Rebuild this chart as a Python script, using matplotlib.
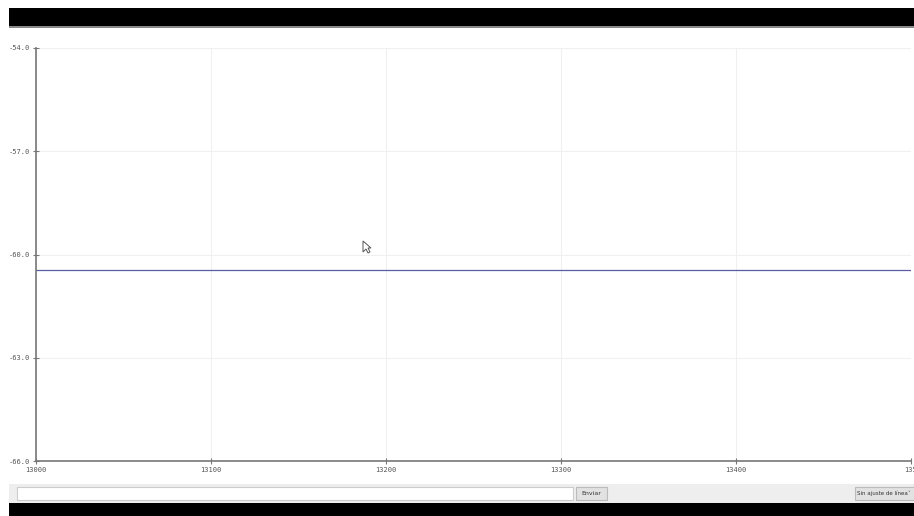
import matplotlib
matplotlib.use("Agg")
import matplotlib.pyplot as plt
from matplotlib.patches import Rectangle, Polygon

# Data
x_values = [13000, 13100, 13200, 13300, 13400, 13500]
y_values = [-60.45, -60.45, -60.45, -60.45, -60.45, -60.45]
x_ticks = [13000, 13100, 13200, 13300, 13400, 13500]
x_tick_labels = ["13000", "13100", "13200", "13300", "13400", "135"]
y_ticks = [-66.0, -63.0, -60.0, -57.0, -54.0]
y_tick_labels = ["-66.0", "-63.0", "-60.0", "-57.0", "-54.0"]

W, H = 914, 516
fig = plt.figure(figsize=(W / 100, H / 100), dpi=100)
fig.patch.set_facecolor("white")

def fx(px):
    return px / W

def fy(py):
    return 1 - py / H

# Top black bar
fig.add_artist(Rectangle((fx(9), fy(26)), fx(905), 18 / H, transform=fig.transFigure,
                         facecolor="black", edgecolor="none"))
fig.add_artist(Rectangle((fx(9), fy(27.5)), fx(905), 1.5 / H, transform=fig.transFigure,
                         facecolor="#888888", edgecolor="none"))
# Bottom panel
fig.add_artist(Rectangle((fx(9), fy(503)), fx(905), 19 / H, transform=fig.transFigure,
                         facecolor="#eeeeee", edgecolor="none"))
fig.add_artist(Rectangle((fx(9), 0), fx(905), 13 / H, transform=fig.transFigure,
                         facecolor="black", edgecolor="none"))
# text input
fig.add_artist(Rectangle((fx(17), fy(500)), fx(556), 13 / H, transform=fig.transFigure,
                         facecolor="white", edgecolor="#cccccc", linewidth=0.8))
# Enviar button
fig.add_artist(Rectangle((fx(576), fy(500)), fx(31), 13 / H, transform=fig.transFigure,
                         facecolor="#e2e2e2", edgecolor="#bbbbbb", linewidth=0.8))
fig.text(fx(591.5), fy(493.5), "Enviar", fontsize=4.5, color="#333333",
         ha="center", va="center")
# dropdown
fig.add_artist(Rectangle((fx(855), fy(500)), fx(60), 13 / H, transform=fig.transFigure,
                         facecolor="#e2e2e2", edgecolor="#bbbbbb", linewidth=0.8))
fig.text(fx(857), fy(493.5), "Sin ajuste de línea", fontsize=4.0, color="#333333",
         ha="left", va="center")
fig.text(fx(910), fy(493.5), "\u02c5", fontsize=4.0, color="#555555",
         ha="right", va="center")

ax = fig.add_axes([fx(36), 55 / H, fx(911) - fx(36), 413 / H])
ax.plot(x_values, y_values, color="#5c5ca6", linewidth=0.9)
ax.set_xlim(13000, 13500)
ax.set_ylim(-66.0, -54.0)
ax.set_xticks(x_ticks)
ax.set_xticklabels(x_tick_labels, fontsize=5, color="#555555", family="DejaVu Sans Mono")
ax.set_yticks(y_ticks)
ax.set_yticklabels(y_tick_labels, fontsize=5, color="#555555", family="DejaVu Sans Mono")
ax.tick_params(axis="both", width=0.8, color="#777777", pad=1.5)
ax.tick_params(axis="x", direction="inout", length=5)
ax.tick_params(axis="y", direction="inout", length=5)
ax.grid(True, color="#f0f0f0", linewidth=0.8)
ax.set_axisbelow(True)
for side in ["top", "right"]:
    ax.spines[side].set_visible(False)
for side in ["left", "bottom"]:
    ax.spines[side].set_color("#777777")
    ax.spines[side].set_linewidth(1.2)

# mouse cursor
cx, cy = 363, 241
pts = [(0, 0), (0, 11), (3, 8), (5, 12), (7, 11), (5, 7), (8, 7)]
cur = Polygon([(fx(cx + a), fy(cy + b)) for a, b in pts], closed=True,
              transform=fig.transFigure, facecolor="white", edgecolor="#555555",
              linewidth=0.7)
fig.add_artist(cur)

fig.savefig("out.png", dpi=100, facecolor="white")
